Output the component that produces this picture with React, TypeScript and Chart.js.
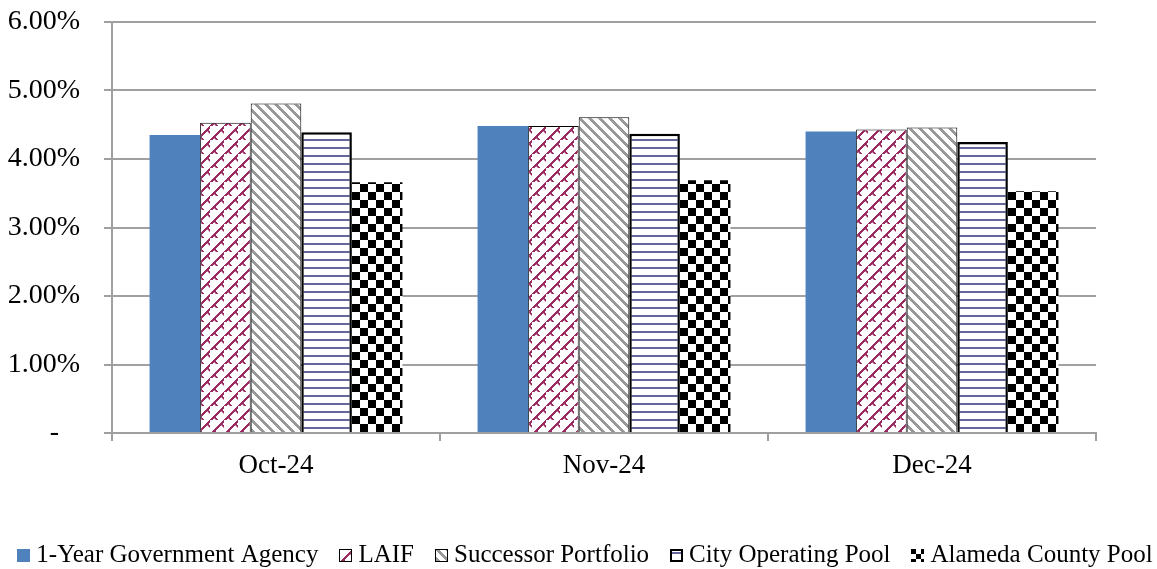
import React, { useEffect, useRef } from "react";
import { Chart, registerables } from "chart.js";

Chart.register(...registerables);

const categories = ["Oct-24", "Nov-24", "Dec-24"];
const seriesNames = [
  "1-Year Government Agency",
  "LAIF",
  "Successor Portfolio",
  "City Operating Pool",
  "Alameda County Pool",
];
const govAgency = [4.35, 4.48, 4.4];
const laif = [4.53, 4.48, 4.43];
const successor = [4.81, 4.61, 4.46];
const cityPool = [4.39, 4.37, 4.25];
const alamedaPool = [3.66, 3.69, 3.53];
const yMax = 6;

const FONT = '"Liberation Serif", "Times New Roman", serif';
const GRID = "#A0A0A0";

function makeTile(w: number, h: number, draw: (g: CanvasRenderingContext2D) => void) {
  const c = document.createElement("canvas");
  c.width = w;
  c.height = h;
  const g = c.getContext("2d")!;
  g.fillStyle = "#fff";
  g.fillRect(0, 0, w, h);
  draw(g);
  return c;
}

function laifTile() {
  return makeTile(14, 14, (g) => {
    g.fillStyle = "#9B2A60";
    for (let i = 0; i < 14; i++) g.fillRect(i, 13 - i, 2, 2);
    for (let k = 1; k <= 3; k++) {
      g.fillRect(3 + k, 10 + k, 2, 1.5);
      g.fillRect(10 + k, 3 + k, 2, 1.5);
    }
  });
}
function successorTile() {
  return makeTile(10, 10, (g) => {
    g.fillStyle = "#999999";
    for (let y = 0; y < 10; y++) for (let k = 0; k < 4; k++) g.fillRect((y + k) % 10, y, 1, 1);
  });
}
function cityTile() {
  return makeTile(8, 8, (g) => {
    g.fillStyle = "#66669C";
    g.fillRect(0, 3, 8, 2);
  });
}
function checkerTile(s: number) {
  return makeTile(2 * s, 2 * s, (g) => {
    g.fillStyle = "#000";
    g.fillRect(0, 0, s, s);
    g.fillRect(s, s, s, s);
  });
}

export default function App() {
  const ref = useRef<HTMLCanvasElement | null>(null);

  useEffect(() => {
    const canvas = ref.current!;
    const ctx = canvas.getContext("2d")!;
    const pLaif = ctx.createPattern(laifTile(), "repeat")!;
    const pSucc = ctx.createPattern(successorTile(), "repeat")!;
    const pCity = ctx.createPattern(cityTile(), "repeat")!;
    const pAla = ctx.createPattern(checkerTile(8), "repeat")!;
    const pAlaLegend = ctx.createPattern(checkerTile(5), "repeat")!;

    const legendStyles = [
      { fill: "#4F81BD" as any, stroke: null as string | null, lw: 0 },
      { fill: pLaif, stroke: "#000", lw: 1 },
      { fill: pSucc, stroke: "#000", lw: 1 },
      { fill: pCity, stroke: "#000", lw: 2 },
      { fill: pAlaLegend, stroke: null, lw: 0 },
    ];

    const legendPlugin = {
      id: "customLegend",
      afterDraw(chart: any) {
        const c = chart.ctx as CanvasRenderingContext2D;
        c.save();
        c.font = `25px ${FONT}`;
        c.textBaseline = "middle";
        const box = 13;
        const gap = 6;
        const itemGap = 21;
        const widths = seriesNames.map((n) => c.measureText(n).width);
        const total =
          widths.reduce((a, b) => a + b, 0) + seriesNames.length * (box + gap) + (seriesNames.length - 1) * itemGap;
        let x = 585 - total / 2;
        const cy = 555;
        seriesNames.forEach((name, i) => {
          const st = legendStyles[i];
          const bx = Math.round(x);
          const by = Math.round(cy - box / 2);
          c.save();
          c.translate(bx, by);
          c.fillStyle = st.fill;
          c.fillRect(0, 0, box, box);
          if (st.stroke) {
            c.strokeStyle = st.stroke;
            c.lineWidth = st.lw;
            c.strokeRect(st.lw / 2, st.lw / 2, box - st.lw, box - st.lw);
          }
          c.restore();
          c.fillStyle = "#000";
          c.textAlign = "left";
          c.fillText(name, x + box + gap, cy);
          x += box + gap + widths[i] + itemGap;
        });
        c.restore();
      },
    };

    const chart = new Chart(ctx, {
      type: "bar",
      data: {
        labels: categories,
        datasets: [
          { label: seriesNames[0], data: govAgency, backgroundColor: "#4F81BD", borderWidth: 0 },
          { label: seriesNames[1], data: laif, backgroundColor: pLaif, borderColor: "#000", borderWidth: 1 },
          { label: seriesNames[2], data: successor, backgroundColor: pSucc, borderColor: "#000", borderWidth: 1 },
          { label: seriesNames[3], data: cityPool, backgroundColor: pCity, borderColor: "#000", borderWidth: 2.5 },
          { label: seriesNames[4], data: alamedaPool, backgroundColor: pAla, borderWidth: 0 },
        ],
      },
      options: {
        responsive: false,
        animation: false,
        devicePixelRatio: 1,
        layout: { padding: { top: 22, right: 61, bottom: 88, left: 0 } },
        datasets: { bar: { categoryPercentage: 0.771, barPercentage: 1 } },
        plugins: { legend: { display: false }, tooltip: { enabled: false } },
        scales: {
          x: {
            grid: { display: true, drawOnChartArea: false, drawTicks: true, tickLength: 8, color: GRID, lineWidth: 2, offset: true },
            border: { color: GRID, width: 2 },
            ticks: { color: "#000", font: { family: FONT, size: 27 }, padding: 9, maxRotation: 0 },
            afterFit: (s: any) => {
              s.height = 48;
              s.paddingLeft = 0;
              s.paddingRight = 0;
            },
          },
          y: {
            min: 0,
            max: yMax,
            grid: { color: GRID, lineWidth: 2, tickLength: 8 },
            border: { color: GRID, width: 2 },
            ticks: {
              stepSize: 1,
              color: "#000",
              padding: 24,
              font: { family: FONT, size: 28 },
              callback: (v: any) => (Number(v) === 0 ? "-   " : Number(v).toFixed(2) + "%"),
            },
            afterFit: (s: any) => {
              s.width = 112;
              s.paddingTop = 0;
              s.paddingBottom = 0;
            },
          },
        },
      },
      plugins: [legendPlugin],
    });
    return () => chart.destroy();
  }, []);

  return (
    <div style={{ position: "fixed", left: 0, top: 0, width: 1157, height: 569, background: "#fff" }}>
      <canvas ref={ref} width={1157} height={569} style={{ width: 1157, height: 569, display: "block" }} />
    </div>
  );
}
